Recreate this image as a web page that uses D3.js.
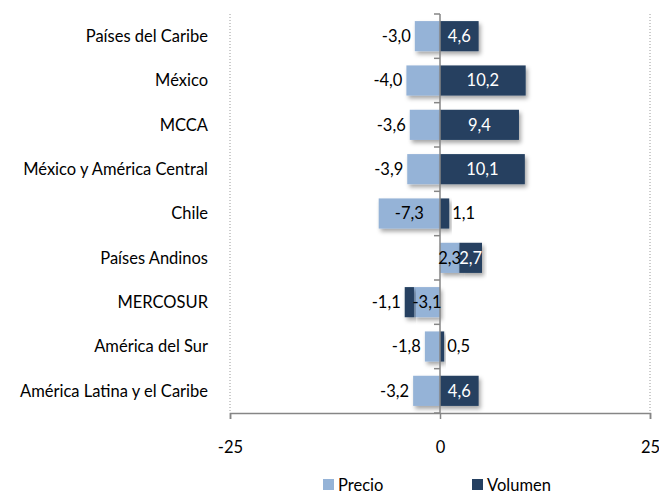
<!DOCTYPE html>
<html>
<head>
<meta charset="utf-8">
<script src="https://cdn.jsdelivr.net/npm/d3@7"></script>
<style>
  body { margin: 0; background: #fff; }
  svg { font-family: Lato, "Open Sans", sans-serif; }
</style>
</head>
<body>
<svg width="659" height="495"></svg>
<script>
const categories = ["Países del Caribe", "México", "MCCA", "México y América Central", "Chile",
  "Países Andinos", "MERCOSUR", "América del Sur", "América Latina y el Caribe"];
const precio  = [-3.0, -4.0, -3.6, -3.9, -7.3, 2.3, -3.1, -1.8, -3.2];
const volumen = [4.6, 10.2, 9.4, 10.1, 1.1, 2.7, -1.1, 0.5, 4.6];
// where each label sits: "in" = centred in bar, "out" = just outside bar end
const precioPos  = ["out", "out", "out", "out", "in", "in", "in", "out", "out"];
const volumenPos = ["in", "in", "in", "in", "out", "in", "out", "out", "in"];
const xTicks = [-25, 0, 25];
const seriesNames = ["Precio", "Volumen"];

const colors = {Precio: "#95b3d7", Volumen: "#254061"};
const fmt = v => v.toFixed(1).replace(".", ",");
const fs = 16.5;

const svg = d3.select("svg");
const x = d3.scaleLinear().domain([-25, 25]).range([230, 650]);
const y = d3.scaleBand().domain(categories).range([14, 413]).paddingInner(0.32).paddingOuter(0.16);
const band = d3.scaleBand().domain(categories).range([14, 413]);

const defs = svg.append("defs");
defs.append("filter").attr("id", "shadow").attr("x", "-20%").attr("y", "-20%").attr("width", "140%").attr("height", "160%")
  .append("feDropShadow").attr("dx", 2).attr("dy", 3).attr("stdDeviation", 2)
  .attr("flood-color", "#000").attr("flood-opacity", 0.35);

// dotted gridlines at the ends
svg.append("g").selectAll("line").data([-25, 25]).join("line")
  .attr("x1", d => x(d)).attr("x2", d => x(d))
  .attr("y1", 14).attr("y2", 413)
  .attr("stroke", "#9a9a9a").attr("stroke-dasharray", "1,2");

// stacked bars (negatives left, positives right)
const rows = categories.map((c, i) => {
  const segs = [];
  let pos = 0, neg = 0;
  [["Precio", precio[i], precioPos[i]], ["Volumen", volumen[i], volumenPos[i]]].forEach(([s, v, p]) => {
    let x0, x1;
    if (v >= 0) { x0 = pos; x1 = pos + v; pos = x1; }
    else { x0 = neg + v; x1 = neg; neg = x0; }
    segs.push({cat: c, series: s, value: v, x0, x1, pos: p});
  });
  return segs;
});
const segs = rows.flat();

svg.append("g").selectAll("rect").data(segs).join("rect")
  .attr("x", d => x(d.x0))
  .attr("width", d => x(d.x1) - x(d.x0))
  .attr("y", d => y(d.cat))
  .attr("height", y.bandwidth())
  .attr("fill", d => colors[d.series])
  .attr("filter", "url(#shadow)");

// y axis at zero
svg.append("line").attr("x1", x(0)).attr("x2", x(0)).attr("y1", 14).attr("y2", 413)
  .attr("stroke", "#868686").attr("stroke-width", 1.5);
svg.append("g").selectAll("line").data(d3.range(categories.length + 1)).join("line")
  .attr("x1", x(0) - 6).attr("x2", x(0))
  .attr("y1", i => 14 + i * band.step()).attr("y2", i => 14 + i * band.step())
  .attr("stroke", "#868686").attr("stroke-width", 1.5);

// x axis
const xAxis = svg.append("g").attr("transform", "translate(0,413)")
  .call(d3.axisBottom(x).tickValues(xTicks).tickSize(6).tickPadding(22).tickFormat(d => d));
xAxis.select(".domain").attr("stroke", "#868686").attr("stroke-width", 1.5);
xAxis.selectAll(".tick line").attr("stroke", "#868686").attr("stroke-width", 1.5);
xAxis.selectAll("text").attr("font-size", fs).attr("fill", "#000").attr("font-family", "Lato, sans-serif");

// category labels
svg.append("g").selectAll("text").data(categories).join("text")
  .attr("x", 208)
  .attr("y", d => y(d) + y.bandwidth() / 2)
  .attr("dy", "0.35em")
  .attr("text-anchor", "end")
  .attr("font-size", fs)
  .text(d => d);

// value labels
svg.append("g").selectAll("text").data(segs).join("text")
  .attr("x", d => {
    if (d.pos === "in") return (x(d.x0) + x(d.x1)) / 2;
    return d.value < 0 ? x(d.x0) - 4 : x(d.x1) + 3;
  })
  .attr("y", d => y(d.cat) + y.bandwidth() / 2)
  .attr("dy", "0.35em")
  .attr("text-anchor", d => d.pos === "in" ? "middle" : (d.value < 0 ? "end" : "start"))
  .attr("font-size", fs)
  .attr("fill", d => d.pos === "in" && d.series === "Volumen" ? "#fff" : "#000")
  .text(d => fmt(d.value));

// legend
const lg = svg.append("g").selectAll("g").data(seriesNames).join("g")
  .attr("transform", (d, i) => `translate(${i ? 472 : 323},479)`);
lg.append("rect").attr("width", 11).attr("height", 11).attr("fill", d => colors[d]);
lg.append("text").attr("x", 15).attr("y", 6).attr("dy", "0.35em").attr("font-size", fs).text(d => d);
</script>
</body>
</html>
